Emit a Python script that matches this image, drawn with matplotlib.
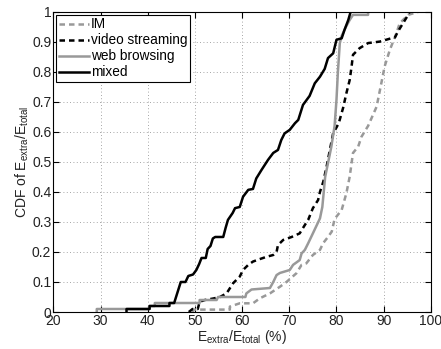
import numpy as np
import matplotlib
matplotlib.use('Agg')
import matplotlib.pyplot as plt

plt.rcParams['font.family'] = ['Liberation Sans', 'DejaVu Sans']
plt.rcParams['mathtext.default'] = 'regular'

# CDF curves (x in %, y = CDF)
im_x = [49.6, 49.6, 57.4, 57.4, 59.5, 62.3, 63.8, 65.9, 68.0, 69.4, 71.5, 72.6, 73.6, 75.0,
        76.5, 77.2, 78.2, 79.0, 79.6, 81.1, 82.1, 82.8, 83.5, 84.6, 85.3, 86.7, 88.5, 89.5,
        90.2, 91.3, 92.7, 93.4, 95.2, 97.3]
im_y = [0.0, 0.008, 0.008, 0.018, 0.029, 0.029, 0.046, 0.062, 0.084, 0.1, 0.129, 0.157, 0.162, 0.19,
        0.207, 0.23, 0.25, 0.268, 0.31, 0.34, 0.396, 0.451, 0.53, 0.551, 0.584, 0.62, 0.684, 0.762,
        0.818, 0.873, 0.929, 0.962, 0.99, 1.0]

video_x = [48.7, 49.5, 50.6, 51.0, 52.1, 53.9, 55.3, 56.7, 58.1, 59.5, 60.2, 61.3, 62.3, 63.5,
           65.2, 66.6, 67.3, 67.6, 68.7, 70.5, 72.2, 73.3, 74.0, 75.0, 76.1, 76.5, 77.2, 77.9,
           78.6, 79.3, 80.0, 80.5, 81.4, 82.1, 82.8, 83.2, 83.5, 84.9, 86.7, 89.2, 91.6, 92.4,
           93.0, 94.1, 94.8, 95.5]
video_y = [0.0, 0.01, 0.01, 0.034, 0.04, 0.045, 0.05, 0.062, 0.096, 0.118, 0.14, 0.157, 0.168, 0.175,
           0.184, 0.19, 0.2, 0.223, 0.24, 0.25, 0.262, 0.29, 0.307, 0.346, 0.373, 0.4, 0.434, 0.484,
           0.54, 0.596, 0.615, 0.63, 0.68, 0.729, 0.773, 0.818, 0.857, 0.879, 0.896, 0.901, 0.912, 0.915,
           0.934, 0.962, 0.98, 1.0]

web_x = [29.2, 29.2, 40.3, 40.3, 41.5, 41.5, 51.0, 51.0, 54.6, 54.9, 60.7, 60.9, 62.0, 65.9,
         66.6, 67.3, 68.0, 70.1, 70.8, 72.2, 72.6, 73.3, 74.0, 75.0, 76.5, 77.0, 77.6, 78.9,
         79.6, 80.0, 80.3, 80.7, 81.1, 82.0, 82.8, 83.5, 86.7, 86.7]
web_y = [0.0, 0.01, 0.01, 0.02, 0.02, 0.03, 0.03, 0.04, 0.04, 0.05, 0.05, 0.062, 0.075, 0.08,
         0.1, 0.123, 0.13, 0.14, 0.157, 0.173, 0.195, 0.207, 0.229, 0.262, 0.312, 0.35, 0.45, 0.55,
         0.62, 0.707, 0.8, 0.895, 0.92, 0.95, 0.973, 0.99, 0.99, 1.0]

mixed_x = [35.5, 35.5, 40.4, 40.4, 44.6, 44.6, 45.6, 46.4, 47.0, 48.0, 48.6, 49.6, 50.3, 50.9,
           51.4, 52.3, 52.7, 53.3, 53.8, 54.3, 56.0, 56.5, 57.0, 58.0, 58.5, 59.5, 60.2, 61.3,
           62.3, 63.0, 64.1, 65.5, 66.6, 67.6, 68.3, 69.0, 70.1, 71.2, 71.9, 72.9, 74.3, 75.4,
           76.5, 77.5, 78.2, 79.3, 80.0, 81.1, 81.7, 82.5, 83.0]
mixed_y = [0.0, 0.01, 0.01, 0.02, 0.02, 0.03, 0.03, 0.07, 0.1, 0.1, 0.12, 0.125, 0.14, 0.16,
           0.18, 0.18, 0.21, 0.22, 0.245, 0.25, 0.25, 0.28, 0.307, 0.33, 0.346, 0.35, 0.384, 0.407,
           0.41, 0.445, 0.473, 0.507, 0.53, 0.54, 0.573, 0.595, 0.607, 0.629, 0.64, 0.69, 0.72, 0.762,
           0.784, 0.81, 0.846, 0.862, 0.907, 0.912, 0.94, 0.973, 1.0]

gray = '#999999'

fig = plt.figure(figsize=(4.41, 3.49), dpi=100)
ax = fig.add_axes([0.121, 0.106, 0.856, 0.86])

ax.plot(im_x, im_y, '--', color=gray, lw=1.8, dashes=(2.2, 1.6), label='IM')
ax.plot(video_x, video_y, '--', color='black', lw=1.8, dashes=(2.2, 1.6), label='video streaming')
ax.plot(web_x, web_y, '-', color=gray, lw=1.8, label='web browsing')
ax.plot(mixed_x, mixed_y, '-', color='black', lw=1.8, label='mixed')

ax.set_xlim(20, 100)
ax.set_ylim(0, 1)
ax.set_xticks(np.arange(20, 101, 10))
ax.set_yticks(np.arange(0, 1.01, 0.1))
ax.set_yticklabels(['0', '0.1', '0.2', '0.3', '0.4', '0.5', '0.6', '0.7', '0.8', '0.9', '1'])
ax.grid(True, linestyle=(0, (1, 3)), color='#888888', lw=0.6)
ax.tick_params(direction='in', top=True, right=True, labelsize=10, length=4, pad=1.5,
               labelcolor='#222222')
for s in ax.spines.values():
    s.set_linewidth(0.8)

ax.set_xlabel(r'$E_{extra}/E_{total}$ (%)', fontsize=10, labelpad=0, color='#222222')
ax.set_ylabel(r'CDF of $E_{extra}/E_{total}$', fontsize=10, labelpad=1, color='#222222')

leg = ax.legend(loc='upper left', fontsize=9.8, handlelength=2.2, handletextpad=0.15,
                borderaxespad=0.2, borderpad=0.2, labelspacing=0.15, fancybox=False)
leg.get_frame().set_edgecolor('black')
leg.get_frame().set_linewidth(0.8)
leg.get_frame().set_alpha(1)

plt.savefig('out.png', dpi=100)
